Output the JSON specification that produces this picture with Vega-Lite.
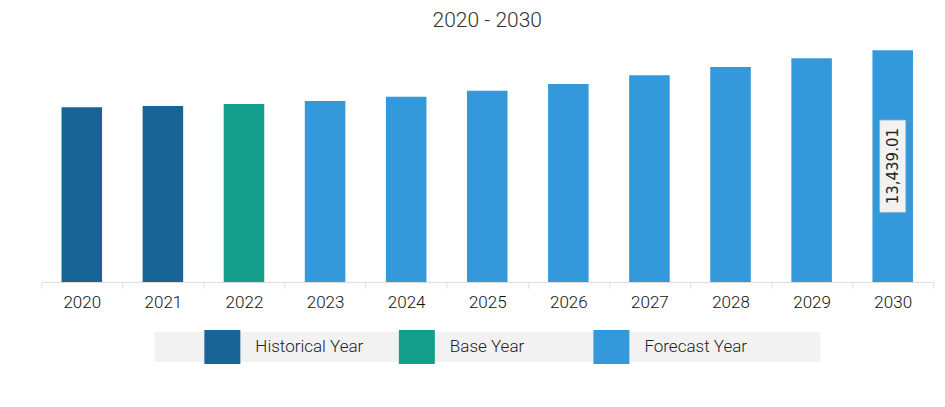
{
  "$schema": "https://vega.github.io/schema/vega-lite/v6.json",
  "padding": {"left": 40, "top": 10, "right": 12, "bottom": 0},
  "autosize": {"type": "pad"},
  "background": "white",
  "title": {"text": "2020 - 2030", "fontSize": 21, "font": "Roboto", "fontWeight": 300, "color": "#333333", "anchor": "middle", "offset": 14},
  "config": {"view": {"stroke": null}, "concat": {"spacing": 20}},
  "center": true,
  "datasets": {
    "main": [
      {"year": "2020", "value": 10133, "type": "Historical Year"},
      {"year": "2021", "value": 10208, "type": "Historical Year"},
      {"year": "2022", "value": 10324, "type": "Base Year"},
      {"year": "2023", "value": 10498, "type": "Forecast Year"},
      {"year": "2024", "value": 10748, "type": "Forecast Year"},
      {"year": "2025", "value": 11096, "type": "Forecast Year"},
      {"year": "2026", "value": 11484, "type": "Forecast Year"},
      {"year": "2027", "value": 11989, "type": "Forecast Year"},
      {"year": "2028", "value": 12470, "type": "Forecast Year"},
      {"year": "2029", "value": 12975, "type": "Forecast Year"},
      {"year": "2030", "value": 13439.01, "type": "Forecast Year"}
    ],
    "legend": [
      {"type": "Historical Year"},
      {"type": "Base Year"},
      {"type": "Forecast Year"}
    ]
  },
  "vconcat": [
    {
      "width": 892,
      "height": 237,
      "data": {"name": "main"},
      "layer": [
        {
          "mark": {"type": "bar", "width": {"band": 0.5}},
          "encoding": {
            "x": {
              "field": "year", "type": "nominal", "sort": null,
              "scale": {"paddingInner": 0, "paddingOuter": 0},
              "axis": {
                "title": null, "labelAngle": 0, "tickBand": "extent",
                "domainColor": "#dddddd", "tickColor": "#dddddd", "tickSize": 6,
                "labelPadding": 6, "labelFont": "Roboto", "labelFontWeight": 300, "labelFontSize": 17,
                "labelColor": "#111111"
              }
            },
            "y": {
              "field": "value", "type": "quantitative",
              "scale": {"domain": [0, 13746], "nice": false},
              "axis": null
            },
            "color": {
              "field": "type", "type": "nominal",
              "scale": {"domain": ["Historical Year", "Base Year", "Forecast Year"], "range": ["#186497", "#139f8b", "#3499db"]},
              "legend": null
            }
          }
        },
        {
          "transform": [{"filter": "datum.year == '2030'"}, {"calculate": "datum.value / 2", "as": "mid"}],
          "mark": {"type": "point", "shape": "M-0.28,-1H0.28V1H-0.28Z", "size": 8464, "filled": true, "fill": "#f2f2f2", "stroke": "#cccccc", "strokeWidth": 0.5, "opacity": 1},
          "encoding": {
            "x": {"field": "year", "type": "nominal", "sort": null},
            "y": {"field": "mid", "type": "quantitative"}
          }
        },
        {
          "transform": [{"filter": "datum.year == '2030'"}, {"calculate": "datum.value / 2", "as": "mid"}],
          "mark": {"type": "text", "angle": 270, "align": "center", "baseline": "middle", "font": "DejaVu Sans", "fontSize": 15, "color": "#222222"},
          "encoding": {
            "x": {"field": "year", "type": "nominal", "sort": null},
            "y": {"field": "mid", "type": "quantitative"},
            "text": {"field": "value", "type": "quantitative", "format": ",.2f"}
          }
        }
      ]
    },
    {
      "width": 666,
      "height": 30,
      "view": {"fill": "#f2f2f2", "stroke": null},
      "data": {"name": "legend"},
      "layer": [
        {
          "mark": {"type": "point", "shape": "M-1,-0.944H1V0.944H-1Z", "size": 1296, "filled": true, "opacity": 1},
          "encoding": {
            "x": {"field": "type", "type": "nominal", "sort": null, "scale": {"type": "point", "padding": 0.712, "align": 0.245}, "axis": null},
            "color": {"field": "type", "type": "nominal", "legend": null}
          }
        },
        {
          "mark": {"type": "text", "align": "left", "baseline": "middle", "dx": 33, "font": "Roboto", "fontWeight": 300, "fontSize": 17, "color": "#222222"},
          "encoding": {
            "x": {"field": "type", "type": "nominal", "sort": null, "scale": {"type": "point", "padding": 0.712, "align": 0.245}, "axis": null},
            "text": {"field": "type"}
          }
        }
      ]
    }
  ]
}
